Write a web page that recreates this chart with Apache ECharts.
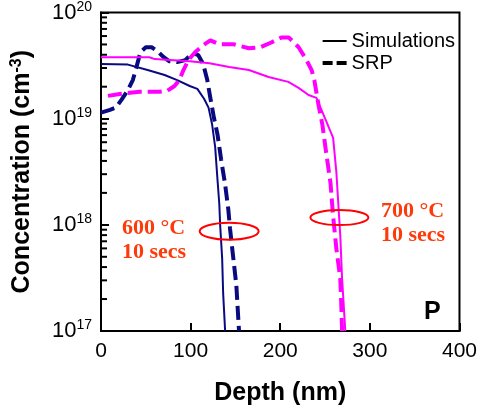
<!DOCTYPE html>
<html>
<head>
<meta charset="utf-8">
<script src="https://cdn.jsdelivr.net/npm/echarts@6/dist/echarts.min.js"></script>
<style>
  html, body { margin: 0; padding: 0; background: #fff; }
  #chart { width: 480px; height: 411px; }
</style>
</head>
<body>
<div id="chart"></div>
<script>
// Phosphorus depth profiles after 600 °C and 700 °C anneals (10 s)
const xTicks = [0, 100, 200, 300, 400];
const yDecades = [1e17, 1e18, 1e19, 1e20];

// 600 °C — simulation
const sim600Depth = [0, 30, 52, 71, 85, 99, 107.5, 115, 120, 124, 127.4, 129.7, 132, 133, 135.2, 136.3, 138.5];
const sim600Conc  = [3.27e19, 3.23e19, 2.87e19, 2.58e19, 2.31e19, 2.03e19, 1.91e19, 1.54e19, 1.27e19, 8.8e18, 5.4e18, 2.87e18, 1.57e18, 9.8e17, 4.8e17, 2.26e17, 1.0e17];

// 600 °C — SRP
const srp600Depth = [0, 10, 16.6, 23, 30, 35.5, 40, 44, 50, 56.5, 63, 70, 76, 85, 94, 102, 108.6, 114, 118.6, 122, 126, 130, 134, 138.5, 142, 144, 147, 151, 154];
const srp600Conc  = [1.14e19, 1.21e19, 1.27e19, 1.51e19, 1.86e19, 2.31e19, 3.16e19, 4.23e19, 4.71e19, 4.71e19, 4.33e19, 3.79e19, 3.48e19, 3.41e19, 3.56e19, 4.14e19, 3.96e19, 3.27e19, 2.31e19, 1.57e19, 1.02e19, 7.1e18, 4.14e18, 2.4e18, 1.41e18, 9.2e17, 5.4e17, 2.7e17, 1.0e17];

// 700 °C — simulation
const sim700Depth = [0, 54, 60, 99, 121, 143, 165, 187, 209, 220.5, 231.6, 240.4, 251.5, 259, 262.6, 264.8, 267, 269, 272.6];
const sim700Conc  = [3.79e19, 3.79e19, 3.64e19, 3.48e19, 3.33e19, 3.06e19, 2.87e19, 2.47e19, 2.22e19, 1.95e19, 1.67e19, 1.57e19, 9.4e18, 6.6e18, 3.16e18, 1.57e18, 7.9e17, 3.13e17, 1.0e17];

// 700 °C — SRP
const srp700Depth = [7.8, 21, 43, 65, 74, 82, 87.5, 92, 97.5, 105, 114, 122, 132, 148.5, 165, 178, 190.6, 201.7, 209.4, 220.5, 229.4, 235, 238, 242.7, 247, 251.5, 256, 259, 262.6, 267, 268, 269];
const srp700Conc  = [1.64e19, 1.71e19, 1.79e19, 1.79e19, 1.83e19, 2.03e19, 2.31e19, 2.87e19, 3.56e19, 4.23e19, 4.92e19, 5.47e19, 5.01e19, 5.01e19, 4.61e19, 4.71e19, 5.25e19, 5.83e19, 5.83e19, 4.71e19, 3.56e19, 2.87e19, 2.31e19, 1.35e19, 8.8e18, 4.61e18, 2.51e18, 1.21e18, 5.97e17, 3.13e17, 1.9e17, 1.0e17];

// Minor log ticks (2..9 per decade)
const minorTicks = [];
for (let e = 17; e < 20; e++) for (let m = 2; m <= 9; m++) minorTicks.push(m * Math.pow(10, e));

const NAVY = '#0a0a80';
const MAGENTA = '#ff00ff';
const NOTE = '#ff3a0a';
const SANS = 'Liberation Sans, Arial, sans-serif';

const pairs = (xs, ys) => xs.map((x, i) => [x, ys[i]]);

const chart = echarts.init(document.getElementById('chart'), null, { renderer: 'canvas' });

const option = {
  animation: false,
  backgroundColor: '#fff',
  grid: { left: 101, right: 18, top: 12, bottom: 78, show: true, borderColor: '#000', borderWidth: 2, backgroundColor: 'transparent' },
  legend: {
    right: 20, top: 26, orient: 'vertical', itemWidth: 24, itemHeight: 10, itemGap: 2,
    textStyle: { fontFamily: SANS, fontSize: 20, color: '#000' },
    data: [
      { name: 'Simulations', icon: 'path://M0,4 L24,4 L24,6 L0,6 Z', itemStyle: { color: '#000' } },
      { name: 'SRP', icon: 'path://M0,3 L10,3 L10,7 L0,7 Z M14,3 L24,3 L24,7 L14,7 Z', itemStyle: { color: '#000' } }
    ]
  },
  xAxis: {
    type: 'value', min: 0, max: 400, interval: 100,
    name: 'Depth (nm)', nameLocation: 'middle', nameGap: 50,
    nameTextStyle: { fontFamily: SANS, fontSize: 25, fontWeight: 'bold', color: '#000' },
    axisLine: { lineStyle: { color: '#000', width: 2 } },
    axisTick: { inside: true, length: 8, lineStyle: { color: '#000', width: 2 } },
    axisLabel: { fontFamily: SANS, fontSize: 21, color: '#000', margin: 10 },
    splitLine: { show: false }
  },
  yAxis: {
    type: 'log', logBase: 10, min: 1e17, max: 1e20, interval: 1,
    name: 'Concentration (cm{s|-3})', nameLocation: 'middle', nameGap: 65, nameRotate: 90,
    nameTextStyle: {
      fontFamily: SANS, fontSize: 25, fontWeight: 'bold', color: '#000',
      rich: { s: { fontFamily: SANS, fontSize: 16, fontWeight: 'bold', color: '#000', padding: [0, 0, 11, 0] } }
    },
    axisLine: { lineStyle: { color: '#000', width: 2 } },
    axisTick: { inside: true, length: 8, lineStyle: { color: '#000', width: 2 } },
    axisLabel: {
      margin: 9,
      formatter: v => '{b|10}{s|' + Math.round(Math.log10(v)) + '}',
      rich: {
        b: { fontFamily: SANS, fontSize: 22, color: '#000' },
        s: { fontFamily: SANS, fontSize: 14, color: '#000', padding: [0, 0, 11, 0] }
      }
    },
    splitLine: { show: false }
  },
  series: [
    { name: 'Simulations', type: 'line', data: pairs(sim600Depth, sim600Conc), symbol: 'none',
      lineStyle: { color: NAVY, width: 2 }, itemStyle: { color: NAVY } },
    { name: 'SRP', type: 'line', data: pairs(srp600Depth, srp600Conc), symbol: 'none',
      lineStyle: { color: NAVY, width: 4, type: [14, 6] }, itemStyle: { color: NAVY } },
    { name: 'Simulations', type: 'line', data: pairs(sim700Depth, sim700Conc), symbol: 'none',
      lineStyle: { color: MAGENTA, width: 2 }, itemStyle: { color: MAGENTA } },
    { name: 'SRP', type: 'line', data: pairs(srp700Depth, srp700Conc), symbol: 'none',
      lineStyle: { color: MAGENTA, width: 4, type: [14, 6] }, itemStyle: { color: MAGENTA } },
    // short minor ticks on the inside of the log axis
    {
      name: 'minorTicks', type: 'custom', silent: true, clip: false, z: 5,
      data: minorTicks.map(v => [0, v]),
      renderItem: (params, api) => {
        const p = api.coord([0, api.value(1)]);
        return {
          type: 'line',
          shape: { x1: p[0] + 1, y1: p[1], x2: p[0] + 6, y2: p[1] },
          style: { stroke: '#000', lineWidth: 2 }
        };
      }
    }
  ]
};

chart.setOption(option);

// Ellipse markers and anneal labels placed in data space
const ellipse600 = [143, 8.7e17];
const ellipse700 = [266, 1.17e18];
const p600 = chart.convertToPixel({ xAxisIndex: 0, yAxisIndex: 0 }, ellipse600);
const p700 = chart.convertToPixel({ xAxisIndex: 0, yAxisIndex: 0 }, ellipse700);

const noteFont = 'bold 22px "Liberation Serif", "Times New Roman", serif';
chart.setOption({
  graphic: [
    { type: 'ellipse', shape: { cx: p600[0], cy: p600[1], rx: 29.5, ry: 8.5 }, style: { fill: 'none', stroke: '#ff0000', lineWidth: 2 }, z: 10 },
    { type: 'ellipse', shape: { cx: p700[0], cy: p700[1], rx: 29, ry: 7.5 }, style: { fill: 'none', stroke: '#ff0000', lineWidth: 2 }, z: 10 },
    { type: 'text', left: 122, top: 216, style: { text: '600 °C\n10 secs', font: noteFont, fill: NOTE, lineHeight: 24 }, z: 10 },
    { type: 'text', left: 381, top: 199, style: { text: '700 °C\n10 secs', font: noteFont, fill: NOTE, lineHeight: 24 }, z: 10 },
    { type: 'text', left: 424, top: 300, style: { text: 'P', font: 'bold 25px "Liberation Sans", Arial, sans-serif', fill: '#000' }, z: 10 }
  ]
});
</script>
</body>
</html>
